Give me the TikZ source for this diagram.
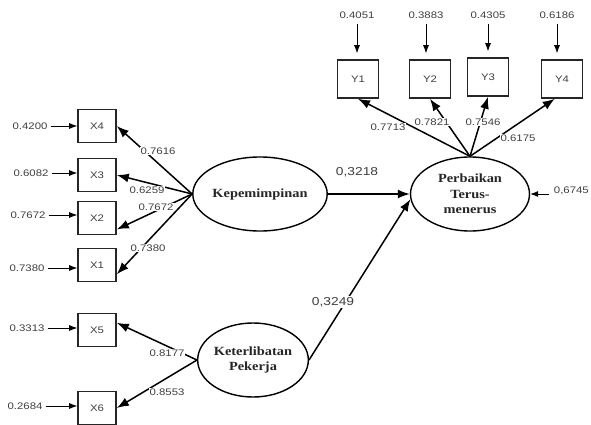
\documentclass[tikz,border=0pt]{standalone}
\usepackage{fontspec}
\setmainfont{Liberation Serif}
\newfontfamily\numfont[FakeStretch=1.2]{Liberation Sans}
\newfontfamily\latfont[FakeStretch=1.15]{Liberation Serif}
\usepackage{tikz}
\usetikzlibrary{shapes.geometric,arrows.meta,positioning,calc}

\begin{document}
\begin{tikzpicture}[
  x=1pt, y=-1pt,
  obs/.style={rectangle, draw=black!85, line width=1.6pt, minimum width=38pt,
              minimum height=33pt, inner sep=0pt, text=black!75,
              font=\numfont\fontsize{9.5}{10}\selectfont},
  lat/.style={ellipse, draw=black, line width=1.4pt, minimum width=118pt,
              minimum height=74pt, inner sep=0pt, align=center, text=black!85,
              font=\latfont\bfseries\fontsize{12.5}{15.5}\selectfont},
  num/.style={inner sep=1pt, fill=white, text=black!75,
              font=\numfont\fontsize{9.5}{10}\selectfont},
  coef/.style={inner sep=1.5pt, fill=white, text=black!75,
              font=\numfont\fontsize{11.5}{12}\selectfont},
  load/.style={-{Latex[length=12pt,width=9pt]}, line width=1.5pt},
  err/.style={-{Latex[length=8pt,width=6pt]}, line width=0.8pt}
]
\useasboundingbox (0,0) rectangle (591,425);
\fill[white] (0,0) rectangle (591,425);

% latent variables
\node[lat] (kep) at (260,194) {Kepemimpinan};
\node[lat, minimum width=119pt] (perb) at (470,194) {Perbaikan\\Terus-\\menerus};
\node[lat, minimum width=106pt] (ket) at (253,360) {Keterlibatan\\Pekerja};

% indicators
\foreach \n/\y in {4/126,3/175,2/218,1/265,5/330,6/408}
  \node[obs] (x\n) at (97,\y) {X\n};
\foreach \n/\x/\y in {1/358/79,2/430/79,3/488/77,4/562/79}
  \node[obs, minimum width=41pt, minimum height=38pt] (y\n) at (\x,\y) {Y\n};

% error terms
\foreach \n/\x/\y/\v in {4/30/126/0.4200,3/31/173/0.6082,2/28/215/0.7672,
                         1/27/268/0.7380,5/27/328/0.3313,6/25/406/0.2684} {
  \node[num] (e\n) at (\x,\y) {\v};
  \draw[err, shorten <=2pt] (e\n) -- (e\n -| x\n.west);
}
\foreach \n/\x/\v in {1/357/0.4051,2/426/0.3883,3/488/0.4305,4/557/0.6186} {
  \node[num] (f\n) at (\x,15) {\v};
  \draw[err, shorten <=4pt, shorten >=6pt] (f\n) -- (f\n |- y\n.north);
}
\node[num, anchor=east] (eperb) at (590,191) {0,6745};
\draw[err, shorten <=4pt] (eperb.west |- perb.east) -- (perb.east);

% loadings
\draw[load] (kep.west) -- (x4.east);
\draw[load] (kep.west) -- (x3.east);
\draw[load] (kep.west) -- (x2.-30);
\draw[load] (kep.west) -- (x1.-25);
\draw[load] (ket.west) -- (x5.20);
\draw[load] (ket.west) -- (x6.east);
\draw[load] (perb.north) -- (y1.south);
\draw[load] (perb.north) -- (y2.south);
\draw[load] (perb.north) -- (y3.south);
\draw[load] (perb.north) -- (y4.-110);

\node[num] (l4) at (158,151) {0.7616};
\node[num] (l3) at (147,190) {0.6259};
\node[num] (l2) at (156,207) {0.7672};
\node[num] (l1) at (148,248) {0.7380};
\node[num] (l5) at (167,353) {0.8177};
\node[num] (l6) at (167,392) {0.8553};
\node[num] (m1) at (388,127) {0.7713};
\node[num] (m2) at (432,122) {0.7821};
\node[num] (m3) at (483,122) {0.7546};
\node[num] (m4) at (518,138) {0.6175};

% structural paths
\draw[load] (kep) -- (perb);
\draw[load] (ket.east) -- (perb.185);
\node[coef] (p1) at (357,172) {0,3218};
\node[coef] (p2) at (333,302) {0,3249};
\end{tikzpicture}
\end{document}
